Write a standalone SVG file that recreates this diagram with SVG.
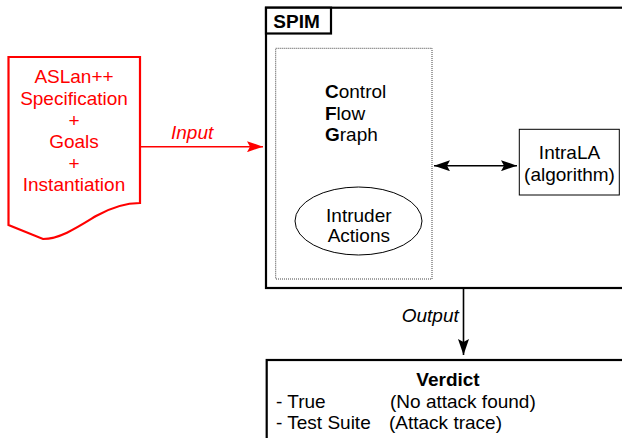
<svg xmlns="http://www.w3.org/2000/svg" width="622" height="438" viewBox="0 0 622 438">
<style>
text{font-family:"Liberation Sans",Arial,sans-serif;font-size:19px;fill:#000}
.red{fill:#ff0000}
.it{font-style:italic}
.b{font-weight:bold}
.mid{text-anchor:middle}
.thick{fill:#fff;stroke:#000;stroke-width:2.2}
.thin{fill:#fff;stroke:#000;stroke-width:1}
</style>
<defs>
<marker id="ahB" viewBox="0 0 16 11" refX="16" refY="5.5" markerWidth="16" markerHeight="11" markerUnits="userSpaceOnUse" orient="auto-start-reverse">
<path d="M0,0 L16,5.5 L0,11 L3,5.5 Z" fill="#000"/>
</marker>
<marker id="ahR" viewBox="0 0 16 11" refX="16" refY="5.5" markerWidth="16" markerHeight="11" markerUnits="userSpaceOnUse" orient="auto">
<path d="M0,0 L16,5.5 L0,11 L3,5.5 Z" fill="#ff0000"/>
</marker>
</defs>
<rect width="622" height="438" fill="#fff"/>

<g id="spec">
<path d="M8.5,57 H140 V203 C127,203 112,207 96,216 C78,227 60,239 43,239 L8.5,225 Z" fill="#fff" stroke="#ff0000" stroke-width="2.2" stroke-linejoin="miter"/>
<text class="red mid" x="74" y="83">ASLan++</text>
<text class="red mid" x="74" y="105">Specification</text>
<text class="red mid" x="74" y="126.5">+</text>
<text class="red mid" x="74" y="148">Goals</text>
<text class="red mid" x="74" y="169.5">+</text>
<text class="red mid" x="74" y="191">Instantiation</text>
</g>

<g id="spim">
<rect class="thick" x="266" y="7.7" width="400" height="280.3"/>
<rect class="thick" x="266" y="7.7" width="65" height="25.8"/>
<text class="b" x="273.3" y="28.3">SPIM</text>
</g>

<g id="cfg">
<rect x="275.7" y="48.3" width="156.3" height="230.7" fill="#fff" stroke="#444" stroke-width="1" stroke-dasharray="1,1"/>
<text x="325" y="98.3"><tspan class="b">C</tspan>ontrol</text>
<text x="325" y="119.5"><tspan class="b">F</tspan>low</text>
<text x="325" y="140.5"><tspan class="b">G</tspan>raph</text>
</g>

<g id="intruder">
<ellipse class="thin" cx="358.5" cy="221" rx="63.5" ry="34"/>
<text class="mid" x="358.8" y="221.7">Intruder</text>
<text class="mid" x="358.8" y="242">Actions</text>
</g>

<g id="intrala">
<rect class="thin" x="519.3" y="129.3" width="100" height="65.7"/>
<text class="mid" x="569.5" y="159.3">IntraLA</text>
<text class="mid" x="569.5" y="180.5">(algorithm)</text>
</g>

<g id="verdict">
<rect class="thick" x="266.7" y="360" width="400" height="100"/>
<text class="b mid" x="448" y="386">Verdict</text>
<text x="276" y="408.3">- True</text>
<text x="390" y="408.3">(No attack found)</text>
<text x="276" y="429.3">- Test Suite</text>
<text x="389" y="429.3">(Attack trace)</text>
</g>

<g id="connectors">
<line x1="140" y1="146.7" x2="263" y2="146.7" stroke="#ff0000" stroke-width="1.6" marker-end="url(#ahR)"/>
<text class="red it" x="171" y="139">Input</text>
<line x1="434" y1="165.7" x2="517" y2="165.7" stroke="#000" stroke-width="1.6" marker-start="url(#ahB)" marker-end="url(#ahB)"/>
<line x1="463.5" y1="289" x2="463.5" y2="355" stroke="#000" stroke-width="1.6" marker-end="url(#ahB)"/>
<text class="it" x="401.7" y="322.3">Output</text>
</g>
</svg>
